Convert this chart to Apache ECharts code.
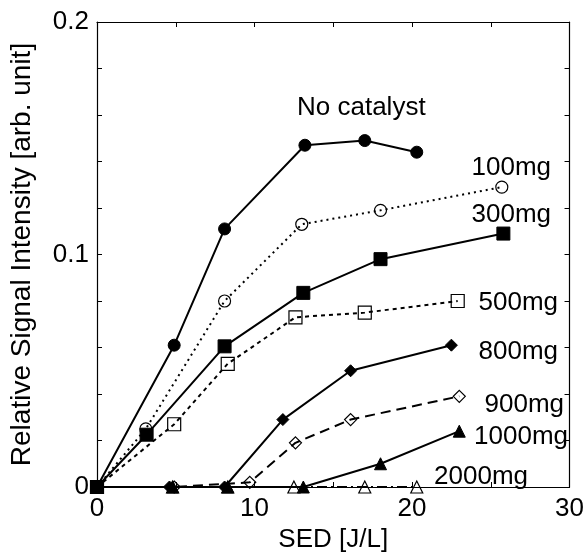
<!DOCTYPE html>
<html>
<head>
<meta charset="utf-8">
<script src="https://cdn.jsdelivr.net/npm/echarts@6/dist/echarts.min.js"></script>
<style>
  html, body { margin: 0; padding: 0; background: #fff; }
  #main { width: 587px; height: 558px; }
</style>
</head>
<body>
<div id="main"></div>
<script>
// data: [SED (J/L), relative signal intensity]
var noCatalyst = [[0, 0], [4.9, 0.061], [8.1, 0.111], [13.2, 0.147], [17, 0.149], [20.3, 0.144]];
var mg100 = [[0, 0], [3.1, 0.025], [8.1, 0.080], [13, 0.113], [18, 0.119], [25.7, 0.129]];
var mg300 = [[0, 0], [3.15, 0.0225], [8.1, 0.0605], [13.1, 0.0835], [18, 0.098], [25.8, 0.109]];
var mg500 = [[0, 0], [4.9, 0.027], [8.3, 0.053], [12.6, 0.073], [17, 0.075], [22.9, 0.080]];
var mg800 = [[0, 0], [4.6, 0], [8.1, 0], [11.8, 0.029], [16.1, 0.050], [22.5, 0.061]];
var mg900 = [[0, 0], [4.9, 0], [9.7, 0.002], [12.6, 0.019], [16.1, 0.029], [23, 0.039]];
var mg1000 = [[0, 0], [4.8, 0], [8.3, 0], [13.1, 0], [18, 0.010], [23, 0.024]];
var mg2000 = [[0, 0], [4.8, 0], [8.3, 0], [12.5, 0], [17, 0], [20.3, 0]];

var xTicks = [0, 10, 20, 30];
var yTicks = [0, 0.1, 0.2];

var FONT = 'Liberation Sans, Arial, Helvetica, sans-serif';
var FS = 26;

var chart = echarts.init(document.getElementById('main'));

// helper for a black line series
function line(name, data, symbol, filled, dash) {
    return {
        name: name,
        type: 'line',
        data: data,
        symbol: symbol,
        symbolSize: symbol === 'rect' ? 13 : 12,
        showAllSymbol: true,
        animation: false,
        lineStyle: { color: '#000', width: 2, type: dash },
        itemStyle: filled
            ? { color: '#000', borderColor: '#000', borderWidth: 1 }
            : { color: 'rgba(0,0,0,0)', borderColor: '#000', borderWidth: 1.2 }
    };
}

// label drawn as text next to each curve
function tag(text, x, y, align) {
    return {
        type: 'text', x: x, y: y,
        style: { text: text, font: FS + 'px ' + FONT, fill: '#000', align: align, verticalAlign: 'middle' }
    };
}

var axisCommon = {
    type: 'value',
    splitLine: { show: false },
    axisLine: { show: true, onZero: false, lineStyle: { color: '#000', width: 1.2 } },
    axisTick: { show: true, inside: true, length: 5, lineStyle: { color: '#000' } },
    minorTick: { show: true, length: 5, lineStyle: { color: '#000' } }
};

var option = {
    backgroundColor: '#fff',
    animation: false,
    grid: { left: 96, right: 15, top: 22, bottom: 65 },
    xAxis: [
        Object.assign({}, axisCommon, {
            min: xTicks[0], max: xTicks[xTicks.length - 1], interval: 10,
            minorTick: Object.assign({}, axisCommon.minorTick, { splitNumber: 2 }),
            name: 'SED [J/L]', nameLocation: 'middle', nameGap: 40,
            nameTextStyle: { fontFamily: FONT, fontSize: FS, color: '#000' },
            axisLabel: { fontFamily: FONT, fontSize: FS, color: '#000', margin: 9 }
        }),
        Object.assign({}, axisCommon, {
            position: 'top',
            min: xTicks[0], max: xTicks[xTicks.length - 1], interval: 10,
            minorTick: Object.assign({}, axisCommon.minorTick, { splitNumber: 2 }),
            axisLabel: { show: false }
        })
    ],
    yAxis: [
        Object.assign({}, axisCommon, {
            min: yTicks[0], max: yTicks[yTicks.length - 1], interval: 0.1,
            minorTick: Object.assign({}, axisCommon.minorTick, { splitNumber: 5 }),
            name: 'Relative Signal Intensity [arb. unit]', nameLocation: 'middle', nameGap: 61,
            nameTextStyle: { fontFamily: FONT, fontSize: 28, color: '#000' },
            axisLabel: { fontFamily: FONT, fontSize: FS, color: '#000', margin: 8 }
        }),
        Object.assign({}, axisCommon, {
            position: 'right',
            min: yTicks[0], max: yTicks[yTicks.length - 1], interval: 0.1,
            minorTick: Object.assign({}, axisCommon.minorTick, { splitNumber: 5 }),
            axisLabel: { show: false }
        })
    ],
    series: [
        line('2000mg', mg2000, 'triangle', false, [10, 4, 2, 4]),
        line('1000mg', mg1000, 'triangle', true, 'solid'),
        line('900mg', mg900, 'diamond', false, [10, 6]),
        line('800mg', mg800, 'diamond', true, 'solid'),
        line('500mg', mg500, 'rect', false, [4, 4]),
        line('100mg', mg100, 'circle', false, [2, 4]),
        line('300mg', mg300, 'rect', true, 'solid'),
        line('No catalyst', noCatalyst, 'circle', true, 'solid')
    ],
    graphic: [
        tag('No catalyst', 297, 108, 'left'),
        tag('100mg', 551, 168, 'right'),
        tag('300mg', 551, 215, 'right'),
        tag('500mg', 558, 303, 'right'),
        tag('800mg', 558, 352, 'right'),
        tag('900mg', 564, 405, 'right'),
        tag('1000mg', 568, 437, 'right'),
        tag('2000mg', 528, 477, 'right')
    ]
};

chart.setOption(option);
</script>
</body>
</html>
